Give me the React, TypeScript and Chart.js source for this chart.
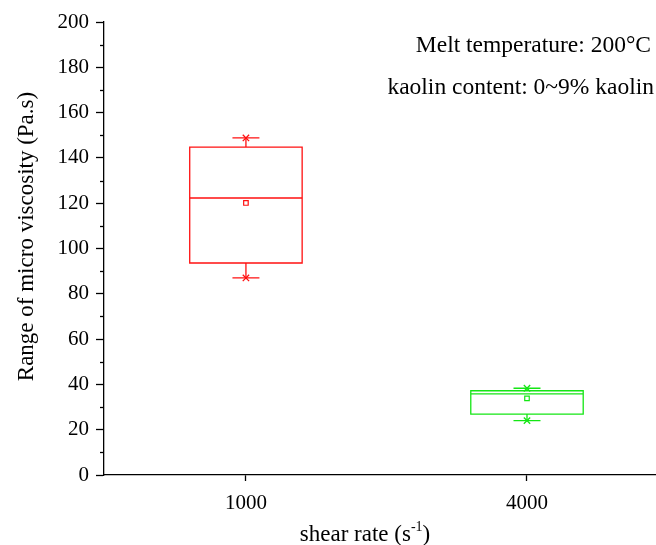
import React, { useEffect, useRef } from "react";
import { Chart, registerables } from "chart.js";

Chart.register(...registerables);

// Box statistics per shear rate (micro viscosity, Pa.s)
const shearRates = ["1000", "4000"];
const maxValues = [148.8, 38.3];
const q3Values = [144.8, 37.2];
const medianValues = [122.3, 35.8];
const q1Values = [93.6, 26.9];
const minValues = [87.0, 24.0];
const meanValues = [120.1, 33.8];
const seriesColors = ["#ff1010", "#14e614"];

const yMin = 0;
const yMax = 200;
const yStep = 20;

const notes = ["Melt temperature: 200\u00b0C", "kaolin content: 0~9% kaolin"];

const FONT = '"Liberation Serif", "Times New Roman", serif';
const TEXT_SIZE = 23.5;
const TICK_SIZE = 21;
const BOX_HALF = 0.2; // half box width in category units
const CAP_HALF = 0.048; // half whisker-cap width in category units

const boxPlugin = {
  id: "boxDraw",
  beforeDatasetsDraw(chart: any) {
    const { ctx, scales } = chart;
    const xs = scales.x;
    const ys = scales.y;
    ctx.save();
    ctx.lineWidth = 1.3;
    shearRates.forEach((_, i) => {
      const color = seriesColors[i];
      ctx.strokeStyle = color;
      const xl = xs.getPixelForValue(i - BOX_HALF);
      const xr = xs.getPixelForValue(i + BOX_HALF);
      const xc = xs.getPixelForValue(i);
      const cl = xs.getPixelForValue(i - CAP_HALF);
      const cr = xs.getPixelForValue(i + CAP_HALF);
      const yq3 = ys.getPixelForValue(q3Values[i]);
      const yq1 = ys.getPixelForValue(q1Values[i]);
      const ymed = ys.getPixelForValue(medianValues[i]);
      const ymax = ys.getPixelForValue(maxValues[i]);
      const ymin = ys.getPixelForValue(minValues[i]);
      ctx.beginPath();
      ctx.rect(xl, yq3, xr - xl, yq1 - yq3);
      ctx.stroke();
      ctx.beginPath();
      ctx.moveTo(xl, ymed);
      ctx.lineTo(xr, ymed);
      // whiskers
      ctx.moveTo(xc, yq3);
      ctx.lineTo(xc, ymax);
      ctx.moveTo(xc, yq1);
      ctx.lineTo(xc, ymin);
      // caps
      ctx.moveTo(cl, ymax);
      ctx.lineTo(cr, ymax);
      ctx.moveTo(cl, ymin);
      ctx.lineTo(cr, ymin);
      ctx.stroke();
    });
    ctx.restore();
  },
  afterDraw(chart: any) {
    const { ctx, chartArea, scales } = chart;
    const ys = scales.y;
    ctx.save();
    // minor ticks on the y axis
    ctx.strokeStyle = "#000";
    ctx.lineWidth = 1.3;
    for (let v = yMin + yStep / 2; v < yMax; v += yStep) {
      const y = Math.round(ys.getPixelForValue(v)) + 0.5;
      ctx.beginPath();
      ctx.moveTo(chartArea.left - 4, y);
      ctx.lineTo(chartArea.left, y);
      ctx.stroke();
    }
    ctx.fillStyle = "#000";
    // y axis title
    ctx.save();
    ctx.translate(27, (chartArea.top + chartArea.bottom) / 2 - 12);
    ctx.rotate(-Math.PI / 2);
    ctx.font = `23px ${FONT}`;
    ctx.textAlign = "center";
    ctx.textBaseline = "middle";
    ctx.fillText("Range of micro viscosity (Pa.s)", 0, 0);
    ctx.restore();
    // x axis title with superscript
    const base = "shear rate (s";
    const sup = "-1";
    const tail = ")";
    ctx.font = `23px ${FONT}`;
    const wBase = ctx.measureText(base).width;
    const wTail = ctx.measureText(tail).width;
    ctx.font = `14px ${FONT}`;
    const wSup = ctx.measureText(sup).width;
    const total = wBase + wSup + wTail;
    const cx = 365;
    const by = chartArea.bottom + 66;
    let x = cx - total / 2;
    ctx.textAlign = "left";
    ctx.textBaseline = "alphabetic";
    ctx.font = `23px ${FONT}`;
    ctx.fillText(base, x, by);
    x += wBase;
    ctx.font = `14px ${FONT}`;
    ctx.fillText(sup, x, by - 10);
    x += wSup;
    ctx.font = `23px ${FONT}`;
    ctx.fillText(tail, x, by);
    // notes
    ctx.textAlign = "right";
    ctx.textBaseline = "middle";
    ctx.font = `${TEXT_SIZE}px ${FONT}`;
    ctx.fillText(notes[0], 651, 46);
    ctx.fillText(notes[1], 654, 88);
    ctx.restore();
  },
};

export default function App() {
  const canvasRef = useRef<HTMLCanvasElement | null>(null);

  useEffect(() => {
    document.body.style.margin = "0";
    const canvas = canvasRef.current;
    if (!canvas) return;

    const meanPoints = meanValues.map((v, i) => ({ x: i, y: v }));
    const extremePoints = [
      ...maxValues.map((v, i) => ({ x: i, y: v })),
      ...minValues.map((v, i) => ({ x: i, y: v })),
    ];
    const extremeColors = [...seriesColors, ...seriesColors];

    const chart = new Chart(canvas, {
      type: "scatter",
      data: {
        datasets: [
          {
            label: "mean",
            data: meanPoints,
            pointStyle: "rect",
            pointRadius: 3.2,
            borderWidth: 1.2,
            borderColor: seriesColors,
            backgroundColor: "#fff",
          },
          {
            label: "extremes",
            data: extremePoints,
            pointStyle: "crossRot",
            pointRadius: 4.5,
            borderWidth: 1.3,
            borderColor: extremeColors,
            backgroundColor: extremeColors,
          },
        ],
      },
      options: {
        responsive: false,
        animation: false,
        devicePixelRatio: 1,
        layout: {
          autoPadding: false,
          padding: { top: 22, left: 0, right: 0, bottom: 0 },
        },
        plugins: {
          legend: { display: false },
          tooltip: { enabled: false },
        },
        scales: {
          x: {
            type: "linear",
            min: -0.505,
            max: 1.459,
            afterBuildTicks: (axis: any) => {
              axis.ticks = shearRates.map((_, i) => ({ value: i }));
            },
            afterFit: (scale: any) => {
              scale.height = 70;
              scale.paddingLeft = 0;
              scale.paddingRight = 0;
            },
            ticks: {
              callback: (v: any) => shearRates[v] ?? "",
              color: "#000",
              font: { family: FONT, size: TICK_SIZE },
              padding: 10,
              maxRotation: 0,
            },
            grid: {
              drawOnChartArea: false,
              drawTicks: true,
              tickLength: 6,
              tickColor: "#000",
              tickWidth: 1.3,
            },
            border: { display: true, color: "#000", width: 1.3 },
          },
          y: {
            min: yMin,
            max: yMax,
            afterFit: (scale: any) => {
              scale.width = 104;
            },
            ticks: {
              stepSize: yStep,
              color: "#000",
              font: { family: FONT, size: TICK_SIZE },
              padding: 7,
            },
            grid: {
              drawOnChartArea: false,
              drawTicks: true,
              tickLength: 8,
              tickColor: "#000",
              tickWidth: 1.3,
            },
            border: { display: true, color: "#000", width: 1.3 },
          },
        },
      },
      plugins: [boxPlugin],
    });

    return () => chart.destroy();
  }, []);

  return (
    <div style={{ width: 656, height: 545, background: "#fff" }}>
      <canvas ref={canvasRef} width={656} height={545} />
    </div>
  );
}
